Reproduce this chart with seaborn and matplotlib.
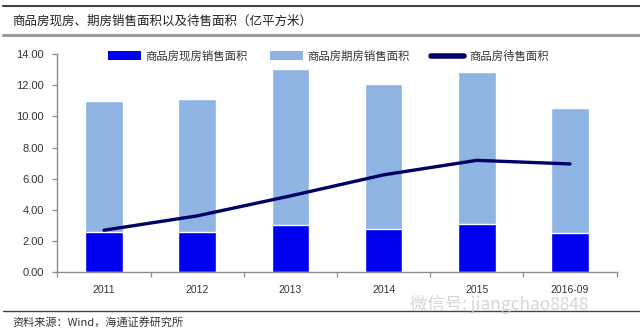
import numpy as np
import pandas as pd
import matplotlib
matplotlib.use("Agg")
import matplotlib.pyplot as plt
from matplotlib.lines import Line2D
from matplotlib.patches import Patch
import seaborn as sns

categories = ["2011", "2012", "2013", "2014", "2015", "2016-09"]
spot_sales = [2.60, 2.60, 3.03, 2.75, 3.10, 2.50]        # 商品房现房销售面积
forward_sales = [8.36, 8.51, 10.00, 9.32, 9.72, 8.01]    # 商品房期房销售面积
for_sale = [2.70, 3.62, 4.90, 6.25, 7.18, 6.95]          # 商品房待售面积
yticks = [0, 2, 4, 6, 8, 10, 12, 14]

sns.set_theme(style="white")
plt.rcParams["font.family"] = ["Liberation Sans", "Noto Sans CJK SC", "DejaVu Sans"]
CJK = ["Noto Sans CJK SC", "DejaVu Sans"]

dark = "#0000F0"
light = "#8DB4E2"
navy = "#000066"

df = pd.DataFrame({
    "cat": categories,
    "spot": spot_sales,
    "forward": forward_sales,
    "stock": for_sale,
})
df["total"] = df["spot"] + df["forward"]

fig = plt.figure(figsize=(6.4, 3.3), dpi=100)
ax = fig.add_axes([0.0897, 0.1748, 0.9634 - 0.0897, 0.8364 - 0.1748])

sns.barplot(data=df, x="cat", y="total", color=light, width=0.405,
            saturation=1, ax=ax, order=categories)
sns.barplot(data=df, x="cat", y="spot", color=dark, width=0.405,
            saturation=1, ax=ax, order=categories)
sns.lineplot(x=np.arange(len(categories)), y=df["stock"], color=navy,
             linewidth=2.4, ax=ax, sort=False)

ax.set_xlim(-0.5, len(categories) - 0.5)
ax.set_ylim(0, 14)
ax.set_yticks(yticks)
ax.set_yticklabels([f"{v:.2f}" for v in yticks])
ax.set_xticks(np.arange(len(categories)))
ax.set_xticklabels(categories)
ax.set_xticks(np.arange(-0.5, len(categories)), minor=True)
ax.set_xlabel("")
ax.set_ylabel("")

for s in ["top", "right"]:
    ax.spines[s].set_visible(False)
for s in ["left", "bottom"]:
    ax.spines[s].set_color("#8c8c8c")
    ax.spines[s].set_linewidth(1.0)

ax.tick_params(axis="y", which="major", length=3.5, width=0.9, color="#8c8c8c",
               direction="out", labelsize=8, labelcolor="#333333", pad=6, left=True)
ax.tick_params(axis="x", which="major", length=0, labelsize=7.5,
               labelcolor="#333333", pad=9)
ax.tick_params(axis="x", which="minor", length=3.5, width=0.9, color="#8c8c8c",
               direction="out", bottom=True)

handles = [
    Patch(facecolor=dark, edgecolor="none", label="商品房现房销售面积"),
    Patch(facecolor=light, edgecolor="none", label="商品房期房销售面积"),
    Line2D([0], [0], color=navy, linewidth=4, solid_capstyle="round",
           label="商品房待售面积"),
]
fig.legend(handles=handles, loc="center left", bbox_to_anchor=(0.160, 0.830),
           ncol=3, frameon=False, prop={"family": CJK, "size": 8.2},
           handlelength=2.9, handleheight=0.8, handletextpad=0.4,
           columnspacing=1.9, borderpad=0, labelcolor="#333333")

# header / footer decoration
fig.add_artist(Line2D([0.005, 1.0], [1 - 6 / 330, 1 - 6 / 330],
                      color="#444444", linewidth=1.5))
fig.text(0.019, 1 - 21.5 / 330, "商品房现房、期房销售面积以及待售面积（亿平方米）",
         family=CJK, fontsize=9, color="#222222", va="center", ha="left")
fig.add_artist(Line2D([0.005, 1.0], [1 - 34.5 / 330, 1 - 34.5 / 330],
                      color="#9a9a9a", linewidth=2.2))
fig.add_artist(Line2D([0.005, 1.0], [1 - 311 / 330, 1 - 311 / 330],
                      color="#444444", linewidth=1.0))
fig.text(0.019, 1 - 322 / 330, "资料来源：Wind，海通证券研究所",
         family=CJK, fontsize=8, color="#333333", va="center", ha="left")
fig.text(0.64, 1 - 304 / 330, "微信号: jiangchao8848",
         family=CJK, fontsize=12.5, color="#cccccc", va="center", ha="left",
         alpha=0.8)

fig.savefig("out.png", dpi=100)
